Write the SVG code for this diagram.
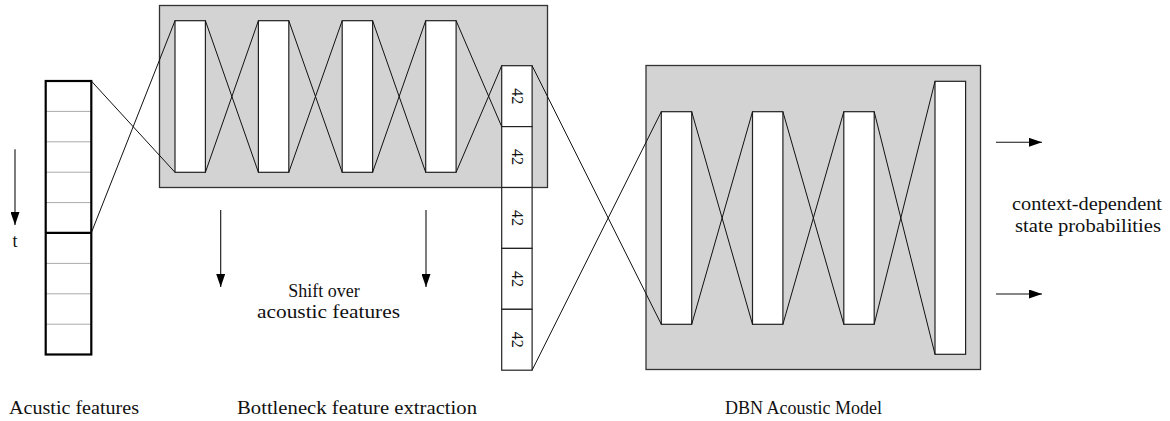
<svg xmlns="http://www.w3.org/2000/svg" width="1170" height="421" viewBox="0 0 1170 421">
<style>
.bg{fill:#fff}
.box{fill:#d3d3d3;stroke:#333;stroke-width:1.3}
.layer{fill:#fff;stroke:#222;stroke-width:1.2}
.cell{fill:#fff;stroke:#222;stroke-width:1.2}
.thin{stroke:#aaa;stroke-width:1}
.thick{fill:none;stroke:#000;stroke-width:2.2}
.conn{fill:none;stroke:#111;stroke-width:1}
.arr{fill:none;stroke:#111;stroke-width:1.1}
text{font-family:"Liberation Serif","DejaVu Serif",serif;font-size:18px;fill:#111}
.num{font-size:16px}
</style>
<defs>
<marker id="ah" viewBox="0 0 13 9" refX="13" refY="4.5" markerWidth="13" markerHeight="9" markerUnits="userSpaceOnUse" orient="auto">
<path d="M0,0 L13,4.5 L0,9 z" fill="#000"/>
</marker>
</defs>
<rect class="bg" x="0" y="0" width="1170" height="421"/>

<g id="bottleneck-box">
<rect class="box" x="159.5" y="5.5" width="388" height="182"/>
</g>
<g id="dbn-box">
<rect class="box" x="646" y="65.5" width="334.5" height="304"/>
</g>

<g id="acoustic-features">
<rect x="45.7" y="81" width="45.6" height="273.5" fill="#fff"/>
<line class="thin" x1="45.7" y1="111.4" x2="91.3" y2="111.4"/>
<line class="thin" x1="45.7" y1="141.8" x2="91.3" y2="141.8"/>
<line class="thin" x1="45.7" y1="172.2" x2="91.3" y2="172.2"/>
<line class="thin" x1="45.7" y1="202.6" x2="91.3" y2="202.6"/>
<line class="thin" x1="45.7" y1="263.4" x2="91.3" y2="263.4"/>
<line class="thin" x1="45.7" y1="293.8" x2="91.3" y2="293.8"/>
<line class="thin" x1="45.7" y1="324.2" x2="91.3" y2="324.2"/>
<rect class="thick" x="45.7" y="81" width="45.6" height="273.5"/>
<line class="thick" x1="45.7" y1="232.8" x2="91.3" y2="232.8"/>
</g>

<g id="bn-layer1"><rect class="layer" x="175" y="20.7" width="30.4" height="151.6"/></g>
<g id="bn-layer2"><rect class="layer" x="258.4" y="20.7" width="30.4" height="151.6"/></g>
<g id="bn-layer3"><rect class="layer" x="342.2" y="20.7" width="30.4" height="151.6"/></g>
<g id="bn-layer4"><rect class="layer" x="425.7" y="20.7" width="30.4" height="151.6"/></g>

<g id="bottleneck-features">
<rect class="cell" x="501.7" y="65.7" width="30.4" height="60.9"/>
<rect class="cell" x="501.7" y="126.6" width="30.4" height="60.9"/>
<rect class="cell" x="501.7" y="187.5" width="30.4" height="60.9"/>
<rect class="cell" x="501.7" y="248.4" width="30.4" height="60.9"/>
<rect class="cell" x="501.7" y="309.3" width="30.4" height="60.9"/>
<text class="num" transform="translate(511.5,96.2) rotate(90)" text-anchor="middle">42</text>
<text class="num" transform="translate(511.5,157.1) rotate(90)" text-anchor="middle">42</text>
<text class="num" transform="translate(511.5,218) rotate(90)" text-anchor="middle">42</text>
<text class="num" transform="translate(511.5,278.9) rotate(90)" text-anchor="middle">42</text>
<text class="num" transform="translate(511.5,339.8) rotate(90)" text-anchor="middle">42</text>
</g>

<g id="dbn-layer1"><rect class="layer" x="661.3" y="111.7" width="30.4" height="212.6"/></g>
<g id="dbn-layer2"><rect class="layer" x="752.5" y="111.7" width="30.4" height="212.6"/></g>
<g id="dbn-layer3"><rect class="layer" x="843.8" y="111.7" width="30.4" height="212.6"/></g>
<g id="dbn-output"><rect class="layer" x="935" y="81.3" width="30.6" height="273"/></g>

<g id="connectors">
<line class="conn" x1="91.3" y1="81" x2="175" y2="172.3"/>
<line class="conn" x1="91.3" y1="232.8" x2="175" y2="20.7"/>
<line class="conn" x1="205.4" y1="20.7" x2="258.4" y2="172.3"/>
<line class="conn" x1="205.4" y1="172.3" x2="258.4" y2="20.7"/>
<line class="conn" x1="288.8" y1="20.7" x2="342.2" y2="172.3"/>
<line class="conn" x1="288.8" y1="172.3" x2="342.2" y2="20.7"/>
<line class="conn" x1="372.6" y1="20.7" x2="425.7" y2="172.3"/>
<line class="conn" x1="372.6" y1="172.3" x2="425.7" y2="20.7"/>
<line class="conn" x1="456.1" y1="20.7" x2="501.7" y2="126.6"/>
<line class="conn" x1="456.1" y1="172.3" x2="501.7" y2="65.7"/>
<line class="conn" x1="532.1" y1="65.7" x2="661.3" y2="324.3"/>
<line class="conn" x1="532.1" y1="370.2" x2="661.3" y2="111.7"/>
<line class="conn" x1="691.7" y1="111.7" x2="752.5" y2="324.3"/>
<line class="conn" x1="691.7" y1="324.3" x2="752.5" y2="111.7"/>
<line class="conn" x1="782.9" y1="111.7" x2="843.8" y2="324.3"/>
<line class="conn" x1="782.9" y1="324.3" x2="843.8" y2="111.7"/>
<line class="conn" x1="874.2" y1="111.7" x2="935" y2="354.3"/>
<line class="conn" x1="874.2" y1="324.3" x2="935" y2="81.3"/>
<line class="arr" x1="15" y1="149.3" x2="15" y2="225" marker-end="url(#ah)"/>
<line class="arr" x1="220.7" y1="210" x2="220.7" y2="287" marker-end="url(#ah)"/>
<line class="arr" x1="426" y1="210" x2="426" y2="287" marker-end="url(#ah)"/>
<line class="arr" x1="996" y1="142.3" x2="1042" y2="142.3" marker-end="url(#ah)"/>
<line class="arr" x1="996" y1="294" x2="1042" y2="294" marker-end="url(#ah)"/>
</g>

<g id="labels">
<text x="15" y="247" text-anchor="middle">t</text>
<text x="324" y="297" text-anchor="middle">Shift over</text>
<text x="328.5" y="318" text-anchor="middle" textLength="143" lengthAdjust="spacingAndGlyphs">acoustic features</text>
<text x="1087" y="210" text-anchor="middle" textLength="150" lengthAdjust="spacingAndGlyphs">context-dependent</text>
<text x="1088" y="232" text-anchor="middle" textLength="146" lengthAdjust="spacingAndGlyphs">state probabilities</text>
<text x="9" y="414" textLength="130" lengthAdjust="spacingAndGlyphs">Acustic features</text>
<text x="237" y="414" textLength="240" lengthAdjust="spacingAndGlyphs">Bottleneck feature extraction</text>
<text x="803.5" y="414" text-anchor="middle">DBN Acoustic Model</text>
</g>
</svg>
